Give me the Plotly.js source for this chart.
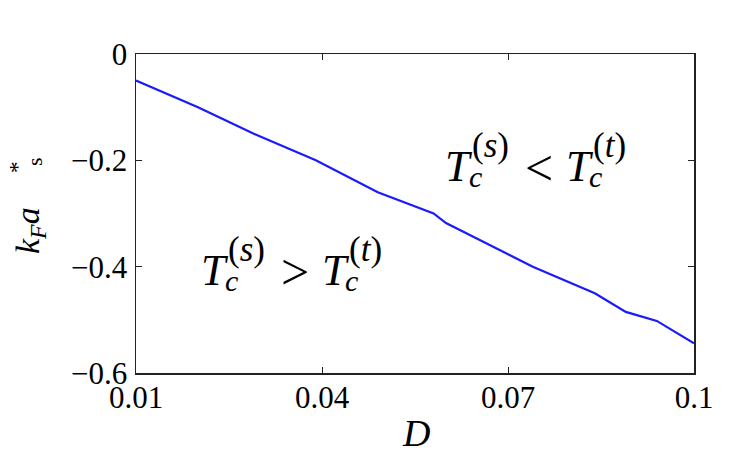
<!DOCTYPE html>
<html>
<head>
<meta charset="utf-8">
<script src="https://cdn.plot.ly/plotly-3.0.1.min.js"></script>
<style>html,body{margin:0;padding:0;background:#fff;}</style>
</head>
<body>
<div id="chart" style="width:747px;height:471px;"></div>
<script>
// Data
const D = [0.01, 0.02, 0.029, 0.039, 0.049, 0.058, 0.060, 0.074, 0.084, 0.089, 0.094, 0.1];
const kFas = [-0.05, -0.10, -0.15, -0.20, -0.26, -0.30, -0.318, -0.40, -0.45, -0.485, -0.502, -0.544];
const xTicks = [0.01, 0.04, 0.07, 0.1];
const xTickText = ['0.01', '0.04', '0.07', '0.1'];
const yTicks = [-0.6, -0.4, -0.2, 0];
const yTickText = ['\u22120.6', '\u22120.4', '\u22120.2', '0'];

const W = 747, H = 471;
const L = 136, R = 694, T = 54, B = 373;
const serif = '"Liberation Serif", serif';
const px = x => (x - L) / (R - L);
const py = y => (B - y) / (B - T);

function ann(text, x, y, size, extra) {
  return Object.assign({
    text: text, xref: 'paper', yref: 'paper', x: px(x), y: py(y),
    xanchor: 'left', yanchor: 'middle', showarrow: false,
    font: {family: serif, size: size, color: '#000'}
  }, extra || {});
}

function expr(x0, y0, rel) {
  // T_c^(s) rel T_c^(t), x0 = left of first T, y0 = centre of T
  return [
    ann('<i>T</i>', x0, y0, 44),
    ann('<i>c</i>', x0 + 24, y0 + 10, 30),
    ann('(<i>s</i>)', x0 + 27, y0 - 21, 35),
    ann(rel, x0 + 80, y0 + 2, 50),
    ann('<i>T</i>', x0 + 121, y0, 44),
    ann('<i>c</i>', x0 + 144, y0 + 10, 30),
    ann('(<i>t</i>)', x0 + 148, y0 - 21, 35)
  ];
}

const annotations = [].concat(
  expr(443, 166, '&lt;'),
  expr(199, 270, '&gt;'),
  [
    ann('<i>k</i><sub><i>F</i></sub><i>a</i>&#8195;<sup>*</sup>', 27, 208, 34, {textangle: -90, xanchor: 'center'}),
    ann('s', 34, 162, 22, {textangle: -90, xanchor: 'center'}),
    ann('<i>D</i>', 416, 433, 38, {xanchor: 'center'})
  ]
);

const trace = {
  x: D, y: kFas, type: 'scatter', mode: 'lines',
  line: {color: '#1a1aff', width: 2.2},
  hoverinfo: 'skip'
};

const axisCommon = {
  showgrid: false, zeroline: false,
  showline: true, mirror: 'ticks', linecolor: '#222', linewidth: 1.5,
  ticks: 'inside', ticklen: 6, tickwidth: 1, tickcolor: '#222',
  tickfont: {family: serif, size: 31, color: '#000'}
};

const layout = {
  width: W, height: H,
  margin: {l: L, r: W - R, t: T, b: H - B, pad: 0},
  paper_bgcolor: '#fff', plot_bgcolor: '#fff',
  showlegend: false,
  font: {family: serif},
  xaxis: Object.assign({}, axisCommon, {
    range: [0.01, 0.1], tickmode: 'array', tickvals: xTicks, ticktext: xTickText,
    ticklabelstandoff: -4
  }),
  yaxis: Object.assign({}, axisCommon, {
    range: [-0.6, 0], tickmode: 'array', tickvals: yTicks, ticktext: yTickText,
    ticklabelstandoff: 1
  }),
  annotations: annotations
};

Plotly.newPlot('chart', [trace], layout, {staticPlot: true, displayModeBar: false});
</script>
</body>
</html>
